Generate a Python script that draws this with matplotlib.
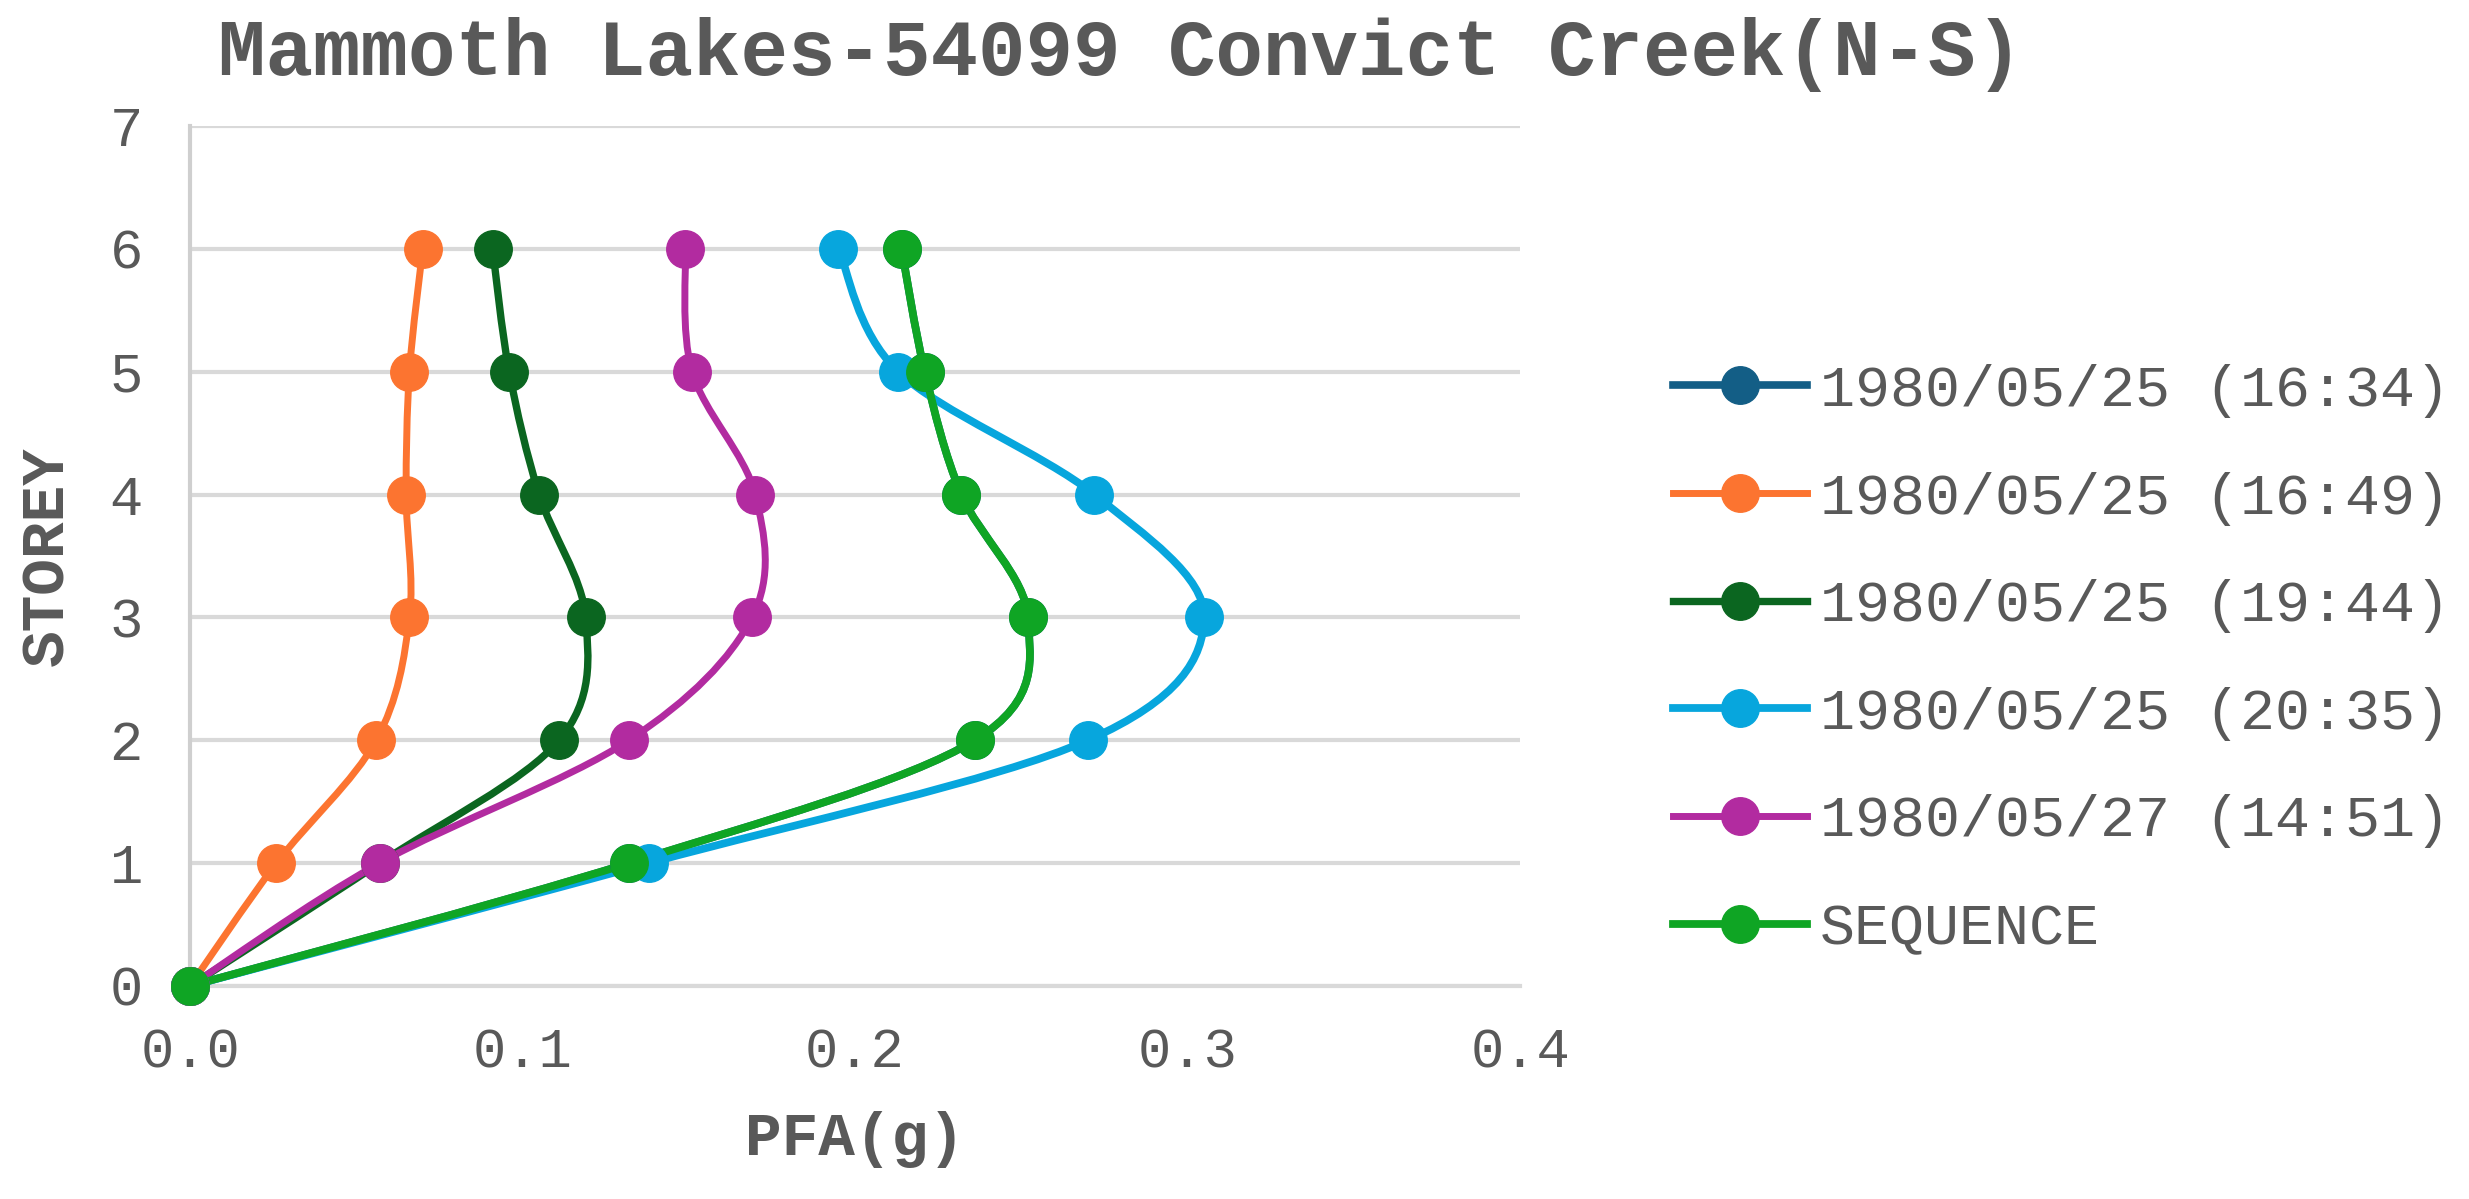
import numpy as np
import matplotlib.pyplot as plt
from matplotlib.path import Path
from matplotlib.patches import PathPatch
from matplotlib.lines import Line2D

# date
storey = [0, 1, 2, 3, 4, 5, 6]
ev_1634 = [0.0, 0.132, 0.236, 0.252, 0.232, 0.221, 0.214]
ev_1649 = [0.0, 0.026, 0.056, 0.066, 0.065, 0.066, 0.070]
ev_1944 = [0.0, 0.057, 0.111, 0.119, 0.105, 0.096, 0.091]
ev_2035 = [0.0, 0.138, 0.270, 0.305, 0.272, 0.213, 0.195]
ev_1451 = [0.0, 0.057, 0.132, 0.169, 0.170, 0.151, 0.149]
sequence = [0.0, 0.132, 0.236, 0.252, 0.232, 0.221, 0.214]

labels = ["1980/05/25 (16:34)", "1980/05/25 (16:49)", "1980/05/25 (19:44)",
          "1980/05/25 (20:35)", "1980/05/27 (14:51)", "SEQUENCE"]
culori = ["#135E86", "#FC7430", "#0B6620", "#07A6DD", "#B22BA0", "#0FA524"]
grosimi = [5.5, 5.0, 5.3, 5.6, 5.0, 5.6]
serii = [ev_1634, ev_1649, ev_1944, ev_2035, ev_1451, sequence]

xticks = [0.0, 0.1, 0.2, 0.3, 0.4]
yticks = [0, 1, 2, 3, 4, 5, 6, 7]

gri = "#595959"
font = "Liberation Mono"


def linie_netezita(x, y):
    # curba tip Excel (Catmull-Rom -> Bezier)
    p = np.column_stack([x, y]).astype(float)
    pts = np.vstack([p[0], p, p[-1]])
    verts = [tuple(p[0])]
    codes = [Path.MOVETO]
    for i in range(1, len(pts) - 2):
        p0, p1, p2, p3 = pts[i - 1], pts[i], pts[i + 1], pts[i + 2]
        c1 = p1 + (p2 - p0) / 6.0
        c2 = p2 - (p3 - p1) / 6.0
        verts += [tuple(c1), tuple(c2), tuple(p2)]
        codes += [Path.CURVE4] * 3
    return Path(verts, codes)


fig = plt.figure(figsize=(24.69, 11.99), dpi=100)
ax = fig.add_axes([190 / 2469, 1 - 986 / 1199, 1330 / 2469, 860 / 1199])

for x, c, lw in zip(serii, culori, grosimi):
    patch = PathPatch(linie_netezita(x, storey), facecolor="none", edgecolor=c,
                      lw=lw, capstyle="round", joinstyle="round", zorder=3, clip_on=False)
    ax.add_patch(patch)
    ax.plot(x, storey, linestyle="none", marker="o", markersize=27, color=c,
            zorder=4, clip_on=False)

ax.set_xlim(0, 0.4)
ax.set_ylim(0, 7)
ax.set_xticks(xticks)
ax.set_xticklabels(["%.1f" % v for v in xticks])
ax.set_yticks(yticks)
ax.grid(axis="y", color="#D9D9D9", lw=3.0, zorder=0)
for s in ["top", "right"]:
    ax.spines[s].set_visible(False)
ax.spines["left"].set_color("#CFCFCF")
ax.spines["left"].set_linewidth(3.0)
ax.spines["bottom"].set_color("#D9D9D9")
ax.spines["bottom"].set_linewidth(3.0)
ax.tick_params(length=0, labelsize=40, labelcolor=gri)
ax.tick_params(axis="x", pad=30)
ax.tick_params(axis="y", pad=34)
for t in ax.get_xticklabels() + ax.get_yticklabels():
    t.set_fontfamily(font)

fig.text(1120 / 2469, 1 - 55 / 1199, "Mammoth Lakes-54099 Convict Creek(N-S)",
         ha="center", va="center", fontsize=57, fontweight="bold", color=gri, family=font)
fig.text(855 / 2469, 1 - 1139 / 1199, "PFA(g)", ha="center", va="center",
         fontsize=44, fontweight="bold", color=gri, family=font)
fig.text(47 / 2469, 1 - 556 / 1199, "STOREY", ha="center", va="center", rotation=90,
         fontsize=44, fontweight="bold", color=gri, family=font)

handles = [Line2D([0], [0], color=c, lw=lw, marker="o", markersize=27)
           for c, lw in zip(culori, grosimi)]
leg = fig.legend(handles, labels, loc="center left", bbox_to_anchor=(1673 / 2469, 1 - 660 / 1199),
                 frameon=False, prop={"family": font, "size": 42}, handlelength=2.3,
                 handletextpad=0.22, labelspacing=0.92, borderpad=0, borderaxespad=0)
for t in leg.get_texts():
    t.set_color(gri)

fig.savefig("out.png", dpi=100)
